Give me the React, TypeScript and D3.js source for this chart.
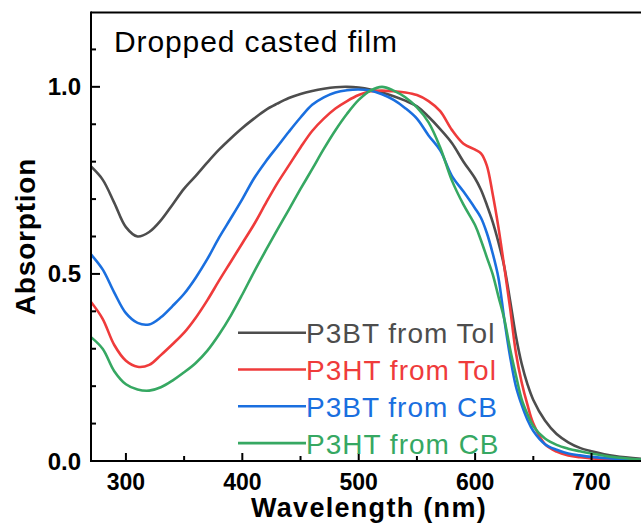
import React from "react";
import * as d3 from "d3";

const wavelengths = [270, 280, 290, 300, 310, 320, 330, 340, 350, 360, 370, 380, 390, 400, 410, 420, 430, 440, 450, 460, 470, 480, 490, 500, 510, 520, 530, 540, 550, 560, 570, 580, 590, 600, 605, 610, 615, 620, 625, 630, 635, 640, 645, 650, 660, 670, 680, 690, 700, 720, 750];

const p3btTol = [0.787, 0.752, 0.69, 0.625, 0.600, 0.612, 0.643, 0.685, 0.728, 0.762, 0.798, 0.832, 0.862, 0.890, 0.915, 0.938, 0.955, 0.970, 0.981, 0.989, 0.995, 0.999, 1.0, 0.998, 0.993, 0.985, 0.975, 0.963, 0.948, 0.920, 0.887, 0.850, 0.800, 0.755, 0.725, 0.685, 0.64, 0.585, 0.52, 0.43, 0.335, 0.26, 0.205, 0.163, 0.108, 0.072, 0.05, 0.035, 0.026, 0.013, 0.004];

const p3htTol = [0.425, 0.38, 0.31, 0.268, 0.252, 0.257, 0.283, 0.312, 0.343, 0.383, 0.43, 0.482, 0.532, 0.582, 0.632, 0.688, 0.742, 0.79, 0.838, 0.882, 0.915, 0.942, 0.962, 0.978, 0.988, 0.99, 0.988, 0.985, 0.978, 0.962, 0.935, 0.885, 0.848, 0.832, 0.822, 0.79, 0.715, 0.625, 0.52, 0.41, 0.29, 0.21, 0.15, 0.1, 0.045, 0.025, 0.015, 0.01, 0.007, 0.004, 0.002];

const p3btCB = [0.552, 0.512, 0.45, 0.395, 0.369, 0.365, 0.384, 0.414, 0.447, 0.49, 0.54, 0.597, 0.648, 0.7, 0.755, 0.8, 0.84, 0.88, 0.918, 0.952, 0.972, 0.985, 0.991, 0.993, 0.99, 0.98, 0.965, 0.943, 0.915, 0.87, 0.83, 0.762, 0.72, 0.675, 0.65, 0.61, 0.556, 0.49, 0.38, 0.28, 0.2, 0.15, 0.11, 0.08, 0.045, 0.03, 0.02, 0.015, 0.011, 0.006, 0.002];

const p3htCB = [0.331, 0.3, 0.24, 0.205, 0.191, 0.188, 0.197, 0.215, 0.237, 0.262, 0.295, 0.338, 0.388, 0.445, 0.505, 0.562, 0.618, 0.672, 0.727, 0.78, 0.834, 0.884, 0.928, 0.965, 0.99, 1.0, 0.99, 0.972, 0.945, 0.905, 0.838, 0.75, 0.685, 0.63, 0.59, 0.545, 0.5, 0.44, 0.38, 0.3, 0.23, 0.165, 0.125, 0.093, 0.06, 0.043, 0.033, 0.026, 0.02, 0.01, 0.002];

const seriesNames = ["P3BT from Tol", "P3HT from Tol", "P3BT from CB", "P3HT from CB"];
const seriesColors = ["#4d4d4d", "#ef3b3b", "#1a6fdf", "#36a862"];
const seriesValues = [p3btTol, p3htTol, p3btCB, p3htCB];

const xMajorTicks = [300, 400, 500, 600, 700];
const xMinorTicks = [350, 450, 550, 650, 750];
const yMajorTicks = [0, 0.5, 1.0];
const yMinorTicks = [0.1, 0.2, 0.3, 0.4, 0.6, 0.7, 0.8, 0.9, 1.1];

const titleText = "Dropped casted film";
const xLabel = "Wavelength (nm)";
const yLabel = "Absorption";

export default function App() {
  const W = 641, H = 525;
  const left = 91, top = 12, bottom = 461;
  const x = d3.scaleLinear().domain([270, 750]).range([left, left + 480 * 1.164]);
  const y = d3.scaleLinear().domain([0, 1.2]).range([bottom, top]);
  const line = d3
    .line<number>()
    .x((_, i) => x(wavelengths[i]))
    .y((d) => y(d))
    .curve(d3.curveCatmullRom.alpha(0.5));
  const font = "Arial, 'Liberation Sans', sans-serif";
  const xR = x(750);
  return (
    <svg
      width={W}
      height={H}
      style={{ position: "fixed", left: 0, top: 0, background: "#fff" }}
      fontFamily={font}
    >
      <rect x={0} y={0} width={W} height={H} fill="#fff" />
      <defs>
        <clipPath id="plotclip">
          <rect x={left} y={top} width={xR - left} height={bottom - top} />
        </clipPath>
      </defs>
      <g clipPath="url(#plotclip)">
        {seriesValues.map((vals, k) => (
          <path
            key={k}
            d={line(vals) || ""}
            fill="none"
            stroke={seriesColors[k]}
            strokeWidth={2.6}
            strokeLinejoin="round"
          />
        ))}
      </g>
      {/* frame */}
      <line x1={left} x2={xR} y1={top + 0.5} y2={top + 0.5} stroke="#000" strokeWidth={2} />
      <line x1={xR} x2={xR} y1={top} y2={bottom} stroke="#000" strokeWidth={2} />
      <line x1={left} x2={left} y1={top - 0.5} y2={bottom + 1} stroke="#000" strokeWidth={2} />
      <line x1={left - 1} x2={xR} y1={bottom} y2={bottom} stroke="#000" strokeWidth={2} />
      {/* x ticks */}
      {xMajorTicks.map((t) => (
        <g key={"xm" + t}>
          <line x1={x(t)} x2={x(t)} y1={bottom} y2={bottom - 8} stroke="#000" strokeWidth={2} />
          <text x={x(t)} y={490} textAnchor="middle" fontSize={23} fontWeight="bold">
            {t}
          </text>
        </g>
      ))}
      {xMinorTicks.map((t) => (
        <line key={"xn" + t} x1={x(t)} x2={x(t)} y1={bottom} y2={bottom - 5} stroke="#000" strokeWidth={2} />
      ))}
      {/* y ticks */}
      {yMajorTicks.map((t) => (
        <g key={"ym" + t}>
          <line x1={left} x2={left + 9} y1={y(t)} y2={y(t)} stroke="#000" strokeWidth={2} />
          <text x={81} y={y(t) + 8.5} textAnchor="end" fontSize={24} fontWeight="bold">
            {t.toFixed(1)}
          </text>
        </g>
      ))}
      {yMinorTicks.map((t) => (
        <line key={"yn" + t} x1={left} x2={left + 5} y1={y(t)} y2={y(t)} stroke="#000" strokeWidth={2} />
      ))}
      {/* axis titles */}
      <text x={369} y={517} textAnchor="middle" fontSize={27} fontWeight="bold" letterSpacing={1.3}>
        {xLabel}
      </text>
      <text
        transform={`translate(35,236.5) rotate(-90)`}
        textAnchor="middle"
        fontSize={28}
        fontWeight="bold"
        letterSpacing={0.8}
      >
        {yLabel}
      </text>
      {/* title */}
      <text x={114} y={52} fontSize={30} letterSpacing={0.9}>
        {titleText}
      </text>
      {/* legend */}
      {seriesNames.map((n, k) => (
        <g key={n}>
          <line
            x1={238}
            x2={306}
            y1={332.7 + k * 36.8}
            y2={332.7 + k * 36.8}
            stroke={seriesColors[k]}
            strokeWidth={2.6}
          />
          <text x={306} y={343.3 + k * 36.8} fontSize={28} fill={seriesColors[k]} letterSpacing={1}>
            {n}
          </text>
        </g>
      ))}
    </svg>
  );
}
